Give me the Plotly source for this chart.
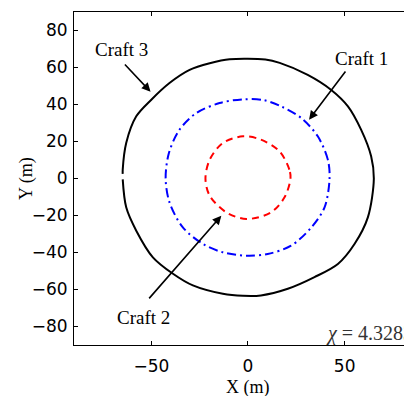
import plotly.graph_objects as go

# Craft 3 (black, solid)
craft3_x = [-64.8, -63.0, -57.8, -49.2, -38.8, -28.5, -13.0, -2.6, 6.7, 20.6, 34.4, 46.5, 55.1, 62.0, 65.1,
            63.7, 58.5, 51.7, 42.9, 30.9, 16.4, 9.0, -9.5, -19.8, -30.2, -40.6, -50.0, -57.8, -63.0, -64.8, -64.8]
craft3_y = [-0.5, -15.6, -28.2, -42.6, -51.5, -57.8, -62.3, -63.4, -63.2, -59.6, -53.3, -46.2, -35.4, -21.0, 0.0,
            12.0, 26.4, 39.0, 48.0, 56.0, 62.5, 64.3, 64.5, 62.3, 58.7, 51.6, 42.6, 33.6, 19.2, 4.8, 2.5]

# Craft 1 (blue, dash-dot)
craft1_x = [42.2, 41.3, 36.1, 27.5, 17.1, 8.0, -2.5, -14.7, -26.7, -35.4, -40.9, -42.6,
            -40.6, -33.7, -23.3, -13.0, -0.8, 10.2, 22.3, 32.8, 39.6, 42.2]
craft1_y = [0.0, 10.2, 22.8, 32.7, 39.0, 42.4, 42.8, 40.8, 35.4, 26.4, 13.8, 0.0,
            -12.9, -26.4, -35.4, -39.9, -41.7, -40.8, -36.3, -26.4, -15.6, 0.0]

# Craft 2 (red, dashed)
craft2_x = [22.0, 21.4, 16.3, 6.7, -2.6, -13.0, -19.8, -22.0, -19.8, -11.2, -0.8, 11.9, 18.9, 22.0]
craft2_y = [0.0, 4.8, 14.7, 21.0, 22.8, 19.2, 10.2, 0.0, -9.3, -18.3, -21.9, -18.3, -10.2, 0.0]

x_ticks = [-50, 0, 50]
y_ticks = [-80, -60, -40, -20, 0, 20, 40, 60, 80]

labels = ["Craft 3", "Craft 1", "Craft 2"]
label_x = [-65.4, 58.7, -53.8]
label_y = [70, 65, -75]
arrow_tail_x = [-64.4, 51.0, -51.8]
arrow_tail_y = [62.4, 58.7, -65.6]
arrow_head_x = [-50.4, 31.6, -13.8]
arrow_head_y = [46.9, 31.8, -20.1]

chi_text = "<i>χ</i> = 4.3283"

serif = "Liberation Serif"

fig = go.Figure()
fig.add_trace(go.Scatter(x=craft3_x, y=craft3_y, mode="lines",
                         line=dict(color="black", width=2, shape="spline", smoothing=0.9)))
fig.add_trace(go.Scatter(x=craft1_x, y=craft1_y, mode="lines",
                         line=dict(color="blue", width=2, dash="9px,4px,2px,4px",
                                   shape="spline", smoothing=0.9)))
fig.add_trace(go.Scatter(x=craft2_x, y=craft2_y, mode="lines",
                         line=dict(color="red", width=2, dash="7px,5px",
                                   shape="spline", smoothing=0.9)))

anns = []
for t, lx, ly in zip(labels, label_x, label_y):
    anns.append(dict(x=lx, y=ly, xref="x", yref="y", text=t, showarrow=False,
                     xanchor="center", yanchor="middle",
                     font=dict(family=serif, size=19, color="black")))
for tx, ty, hx, hy in zip(arrow_tail_x, arrow_tail_y, arrow_head_x, arrow_head_y):
    anns.append(dict(x=hx, y=hy, ax=tx, ay=ty, xref="x", yref="y", axref="x", ayref="y",
                     text="", showarrow=True, arrowhead=2, arrowsize=1.1,
                     arrowwidth=1.6, arrowcolor="black"))
anns.append(dict(x=39.5, y=-84, xref="x", yref="y", xanchor="left", yanchor="middle",
                 text=chi_text, showarrow=False,
                 font=dict(family=serif, size=20, color="#333")))
anns.append(dict(x=0, y=-0.129, xref="x", yref="paper", xanchor="center", yanchor="middle",
                 text="X (m)", showarrow=False,
                 font=dict(family=serif, size=18, color="black")))
anns.append(dict(x=-0.144, y=0, xref="paper", yref="y", xanchor="center", yanchor="middle",
                 text="Y (m)", showarrow=False, textangle=-90,
                 font=dict(family=serif, size=18, color="black")))

fig.update_layout(
    width=404, height=396,
    margin=dict(l=74, r=0, t=12, b=51),
    paper_bgcolor="white", plot_bgcolor="white",
    showlegend=False,
    annotations=anns,
    font=dict(family="DejaVu Sans", size=17, color="black"),
)
fig.update_xaxes(range=[-90, 80.7], tickvals=x_ticks, ticks="inside", ticklen=4,
                 tickcolor="black", showline=True, linecolor="black", linewidth=1,
                 mirror="ticks", showgrid=False, zeroline=False, ticklabelstandoff=6)
fig.update_yaxes(range=[-90, 90], tickvals=y_ticks, ticks="inside", ticklen=4,
                 tickcolor="black", showline=True, linecolor="black", linewidth=1,
                 mirror=False, showgrid=False, zeroline=False, ticklabelstandoff=2)

fig.write_html("out.html")
